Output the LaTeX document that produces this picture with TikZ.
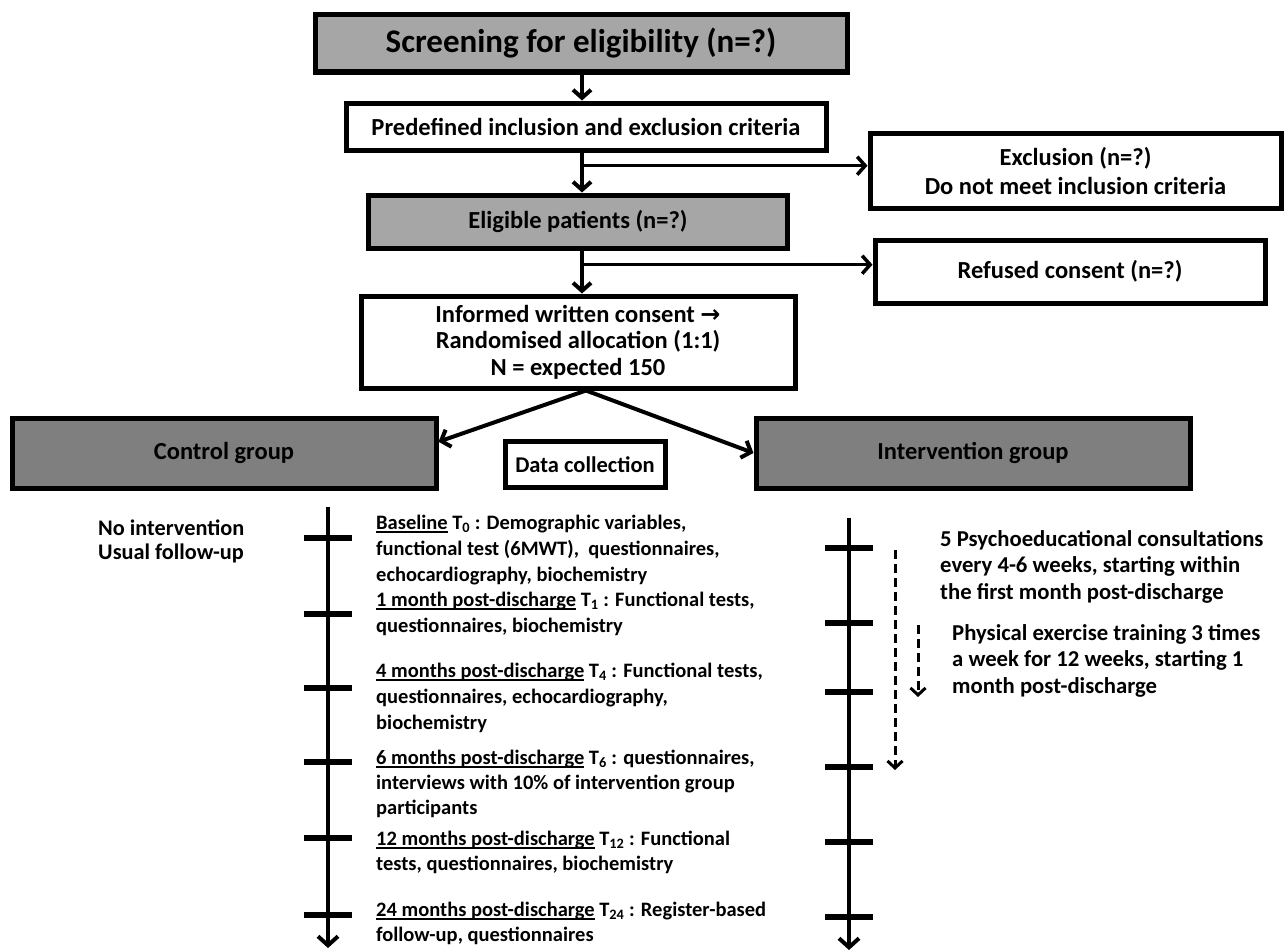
\documentclass[tikz,border=0pt]{standalone}
\usepackage{fontspec}
\setmainfont{Carlito}
\newfontfamily\djv{DejaVu Sans}
\usetikzlibrary{arrows.meta,calc}
\definecolor{lightg}{HTML}{A6A6A6}
\definecolor{darkg}{HTML}{7F7F7F}
\newcommand\ulx[1]{\leavevmode\setbox0=\hbox{#1}\rlap{\rule[-3.5pt]{\wd0}{1.6pt}}\box0\relax}
\begin{document}
\begin{tikzpicture}[x=1pt,y=-1pt,
  bx/.style={draw=black, line width=5pt, inner sep=0pt, align=center, minimum width=#1,
     font=\bfseries\fontsize{24.5}{27}\selectfont},
  wbox/.style={bx=#1, fill=white},
  gbox/.style={bx=#1, fill=lightg},
  dbox/.style={bx=#1, fill=darkg},
  txt/.style={inner sep=0pt, align=left, font=\bfseries\fontsize{20.5}{26}\selectfont},
  rtxt/.style={inner sep=0pt, align=left, font=\bfseries\fontsize{22.7}{26.5}\selectfont},
  arr/.style={line width=4pt, -{Straight Barb[length=8pt,width=18pt]}},
  barr/.style={line width=3.5pt, -{Straight Barb[length=8pt,width=18pt]}},
  tl/.style={line width=4pt, -{Straight Barb[length=9pt,width=20pt]}},
  tick/.style={line width=6pt},
  darr/.style={line width=3pt, dash pattern=on 9pt off 5pt, -{Straight Barb[length=7pt,width=15pt]}}
]
\useasboundingbox (0,0) rectangle (1287,950);

% flow boxes
\node[gbox=532, minimum height=57, font=\bfseries\fontsize{33}{36}\selectfont] (scr) at (581,43.5) {Screening for eligibility (n=?)};
\node[wbox=480, minimum height=47] (pre) at (586,126.5) {Predefined inclusion and exclusion criteria};
\node[gbox=419, minimum height=53] (eli) at (578,221.5) {Eligible patients (n=?)};
\node[wbox=434, minimum height=92, font=\bfseries\fontsize{24.5}{26.5}\selectfont] (con) at (578,342) {Informed written consent {\djv\bfseries\fontsize{24}{26}\selectfont →}\\Randomised allocation (1:1)\\N = expected 150};
\node[wbox=411, minimum height=75, font=\bfseries\fontsize{24.5}{29}\selectfont] (exc) at (1075.5,170.5) {Exclusion (n=?)\\Do not meet inclusion criteria};
\node[wbox=390, minimum height=63] (ref) at (1070,271.5) {Refused consent (n=?)};
\node[dbox=424, minimum height=70] (ctl) at (224,453) {Control group};
\node[dbox=434, minimum height=70] (itv) at (973,453) {Intervention group};
\node[wbox=160, minimum height=46, font=\bfseries\fontsize{22.5}{24}\selectfont] (dat) at (585,464.5) {Data collection};

% connectors
\coordinate (c1) at (scr.south -| 582,0);
\draw[arr] (c1) -- (c1 |- pre.north);
\coordinate (c2) at (pre.south -| 582,0);
\coordinate (b1) at ($(c2)!0.33!(c2 |- eli.north)$);
\draw[arr] (c2) -- (c2 |- eli.north);
\draw[barr] (b1) -- (b1 -| exc.west);
\coordinate (c3) at (eli.south -| 582,0);
\coordinate (b2) at ($(c3)!0.33!(c3 |- con.north)$);
\draw[arr] (c3) -- (c3 |- con.north);
\draw[barr] (b2) -- (b2 -| ref.west);
\coordinate (ap) at ([xshift=8pt]con.south);
\draw[arr] (ap) -- ($(ctl.north east)!0.35!(ctl.south east)$);
\draw[arr] (ap) -- ($(itv.north west)!0.5!(itv.south west)$);

% timelines
\draw[tl] (328,507) -- (328,948);
\foreach \y in {538,614,688,762,838,915} \draw[tick] (304,\y) -- (352,\y);
\draw[tl] (849,518) -- (849,950);
\foreach \y in {548,623,692,767,842,917} \draw[tick] (825,\y) -- (873,\y);

% intervention arrows
\draw[darr] (895,550) -- (895,770);
\draw[darr] (918,625) -- (918,697);

% texts (anchor = baseline of last line)
\node[rtxt, anchor=base west, font=\bfseries\fontsize{22.3}{24}\selectfont] (ni) at (98,559) {No intervention\\Usual follow-up};
\node[txt, anchor=base west] (t0) at (376,581) {\ulx{Baseline} T\textsubscript{0} : Demographic variables,\\functional test (6MWT),\ \ questionnaires,\\echocardiography, biochemistry};
\node[txt, anchor=base west] (t1) at (376,632) {\ulx{1 month post-discharge} T\textsubscript{1} : Functional tests,\\questionnaires, biochemistry};
\node[txt, anchor=base west] (t4) at (376,729) {\ulx{4 months post-discharge} T\textsubscript{4} : Functional tests,\\questionnaires, echocardiography,\\biochemistry};
\node[txt, anchor=base west, font=\bfseries\fontsize{20.5}{25}\selectfont] (t6) at (376,814) {\ulx{6 months post-discharge} T\textsubscript{6} : questionnaires,\\interviews with 10\% of intervention group\\participants};
\node[txt, anchor=base west, font=\bfseries\fontsize{20.5}{25}\selectfont] (t12) at (376,870) {\ulx{12 months post-discharge} T\textsubscript{12} : Functional\\tests, questionnaires, biochemistry};
\node[txt, anchor=base west, font=\bfseries\fontsize{20.5}{25}\selectfont] (t24) at (376,941) {\ulx{24 months post-discharge} T\textsubscript{24} : Register-based\\follow-up, questionnaires};
\node[rtxt, anchor=base west] (pe) at (940,599) {5 Psychoeducational consultations\\every 4-6 weeks, starting within\\the first month post-discharge};
\node[rtxt, anchor=base west] (px) at (952,693) {Physical exercise training 3 times\\a week for 12 weeks, starting 1\\month post-discharge};
\end{tikzpicture}
\end{document}
